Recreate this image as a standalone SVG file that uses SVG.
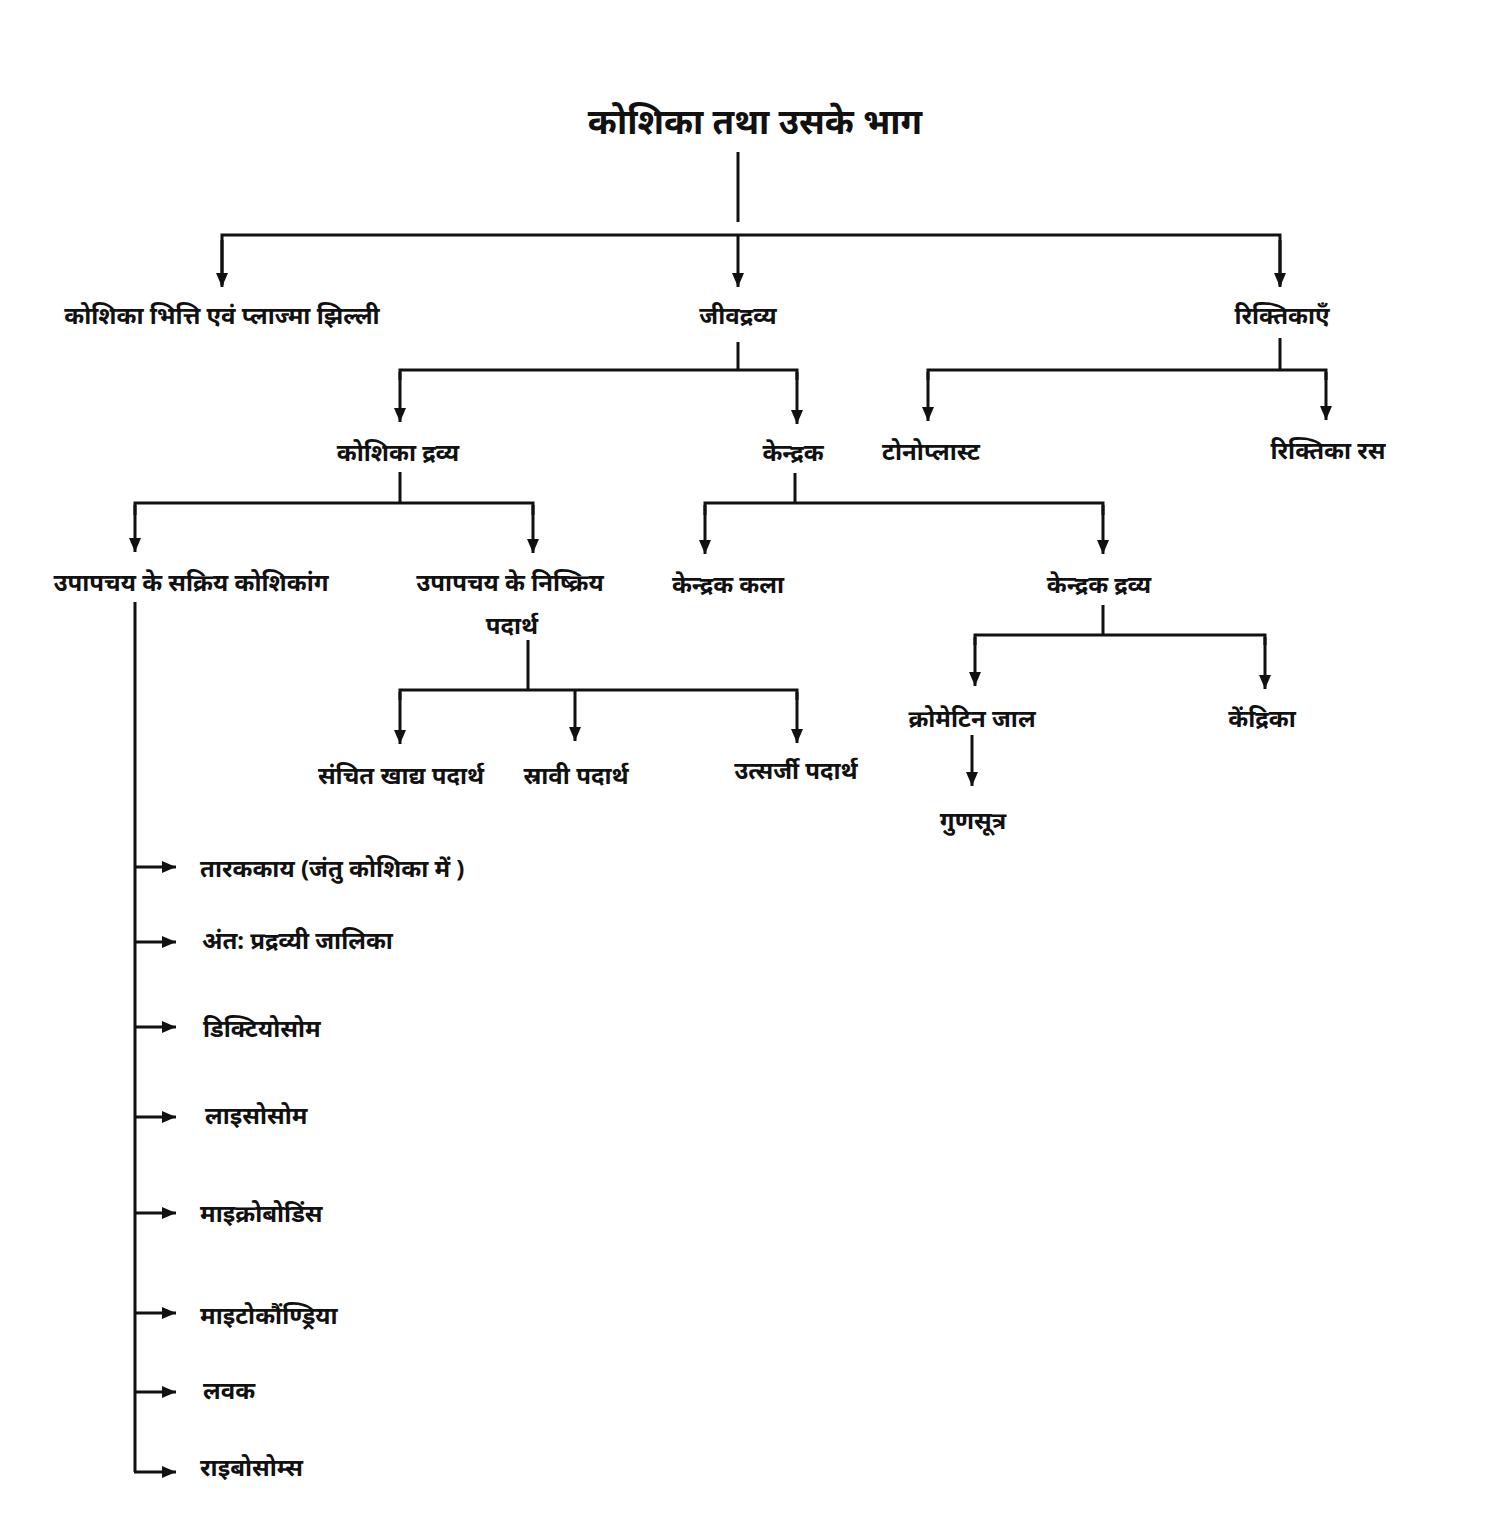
<svg xmlns="http://www.w3.org/2000/svg" width="1487" height="1536" viewBox="0 0 1487 1536">
<defs>
<marker id="ah" viewBox="0 0 14 12" refX="14" refY="6" markerWidth="14" markerHeight="12" markerUnits="userSpaceOnUse" orient="auto">
<path d="M0,0 L14,6 L0,12 z" fill="#111"/>
</marker>
<style>
.ln{fill:none;stroke:#111;stroke-width:3}
.ar{fill:none;stroke:#111;stroke-width:3;marker-end:url(#ah)}
text{font-family:"Noto Sans","Noto Sans Devanagari","Liberation Sans",sans-serif;font-weight:bold;fill:#111;font-size:24px}
.c{text-anchor:middle}
.t{font-size:35px}
</style>
</defs>
<rect width="1487" height="1536" fill="#fff"/>
<g id="connectors">
<path class="ln" d="M738,152 V222"/>
<path class="ln" d="M222,285 V235 H1280 V285"/>
<path class="ar" d="M222,240 V287"/>
<path class="ar" d="M738,235 V287"/>
<path class="ar" d="M1280,240 V287"/>
<path class="ln" d="M738,342 V370"/>
<path class="ln" d="M400,380 V370 H797 V380"/>
<path class="ar" d="M400,372 V422"/>
<path class="ar" d="M797,372 V424"/>
<path class="ln" d="M1280,338 V370"/>
<path class="ln" d="M928,380 V370 H1326 V380"/>
<path class="ar" d="M928,372 V421"/>
<path class="ar" d="M1326,372 V420"/>
<path class="ln" d="M400,472 V503"/>
<path class="ln" d="M135,515 V503 H533 V515"/>
<path class="ar" d="M135,505 V552"/>
<path class="ar" d="M533,505 V553"/>
<path class="ln" d="M795,473 V503"/>
<path class="ln" d="M705,515 V503 H1103 V515"/>
<path class="ar" d="M705,505 V554"/>
<path class="ar" d="M1103,505 V554"/>
<path class="ln" d="M528,640 V690"/>
<path class="ln" d="M400,700 V690 H797 V700"/>
<path class="ar" d="M400,692 V744"/>
<path class="ar" d="M575,690 V741"/>
<path class="ar" d="M797,692 V743"/>
<path class="ln" d="M1103,605 V635"/>
<path class="ln" d="M975,645 V635 H1265 V645"/>
<path class="ar" d="M975,637 V686"/>
<path class="ar" d="M1265,637 V689"/>
<path class="ar" d="M972,735 V786"/>
<path class="ln" d="M135,602 V1472"/>
<path class="ar" d="M134,867 H176"/>
<path class="ar" d="M134,942 H176"/>
<path class="ar" d="M134,1027 H176"/>
<path class="ar" d="M134,1117 H176"/>
<path class="ar" d="M134,1213 H176"/>
<path class="ar" d="M134,1313 H176"/>
<path class="ar" d="M134,1392 H176"/>
<path class="ar" d="M134,1472 H176"/>
</g>
<g id="n-root"><text class="c t" x="755" y="134">कोशिका तथा उसके भाग</text></g>
<g id="n-wall"><text class="c" x="222" y="324">कोशिका भित्ति एवं प्लाज्मा झिल्ली</text></g>
<g id="n-proto"><text class="c" x="738" y="324">जीवद्रव्य</text></g>
<g id="n-vac"><text class="c" x="1282" y="324">रिक्तिकाएँ</text></g>
<g id="n-cyto"><text class="c" x="398" y="461">कोशिका द्रव्य</text></g>
<g id="n-nuc"><text class="c" x="793" y="461">केन्द्रक</text></g>
<g id="n-tono"><text class="c" x="931" y="460">टोनोप्लास्ट</text></g>
<g id="n-sap"><text class="c" x="1328" y="459">रिक्तिका रस</text></g>
<g id="n-active"><text class="c" x="191" y="591">उपापचय के सक्रिय कोशिकांग</text></g>
<g id="n-inactive"><text class="c" x="510" y="591">उपापचय के निष्क्रिय</text><text class="c" x="512" y="634">पदार्थ</text></g>
<g id="n-memb"><text class="c" x="728" y="593">केन्द्रक कला</text></g>
<g id="n-nucplasm"><text class="c" x="1099" y="593">केन्द्रक द्रव्य</text></g>
<g id="n-food"><text class="c" x="401" y="784">संचित खाद्य पदार्थ</text></g>
<g id="n-secr"><text class="c" x="576" y="784">स्रावी पदार्थ</text></g>
<g id="n-excr"><text class="c" x="796" y="779">उत्सर्जी पदार्थ</text></g>
<g id="n-chrom"><text class="c" x="972" y="727">क्रोमेटिन जाल</text></g>
<g id="n-nucleolus"><text class="c" x="1262" y="727">केंद्रिका</text></g>
<g id="n-chromo"><text class="c" x="973" y="829">गुणसूत्र</text></g>
<g id="n-l1"><text x="200" y="877">तारककाय (जंतु कोशिका में )</text></g>
<g id="n-l2"><text x="202" y="949">अंत: प्रद्रव्यी जालिका</text></g>
<g id="n-l3"><text x="203" y="1037">डिक्टियोसोम</text></g>
<g id="n-l4"><text x="205" y="1124">लाइसोसोम</text></g>
<g id="n-l5"><text x="200" y="1222">माइक्रोबोडिंस</text></g>
<g id="n-l6"><text x="200" y="1324">माइटोकौंण्ड्रिया</text></g>
<g id="n-l7"><text x="203" y="1399">लवक</text></g>
<g id="n-l8"><text x="200" y="1476">राइबोसोम्स</text></g>
</svg>
